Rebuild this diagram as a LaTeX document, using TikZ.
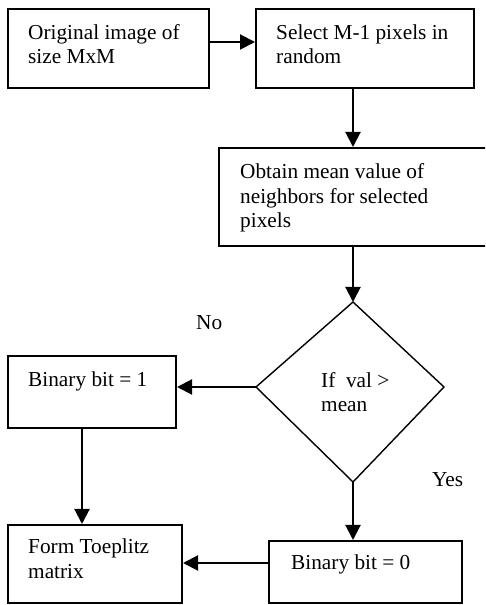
\documentclass[tikz,border=0pt]{standalone}
\usepackage{fontspec}
\setmainfont{Liberation Serif}
\usetikzlibrary{arrows.meta,calc}
\begin{document}
\begin{tikzpicture}[x=1pt,y=1pt,
  box/.style={draw=black,line width=2pt,inner sep=0pt,fill=white},
  txt/.style={inner sep=0pt,anchor=base west,align=left,font=\fontsize{21.3}{24.5}\selectfont},
  arr/.style={line width=2pt,-{Triangle[length=15pt,width=15pt]}},
  dia/.style={draw=black,line width=1.4pt,line join=miter}]
\clip (0,0) rectangle (485,605);
\fill[white] (0,0) rectangle (485,605);
% boxes
\node[box,minimum width=201pt,minimum height=79pt] (b1) at (108.5,556.5) {};
\node[box,minimum width=218pt,minimum height=79pt] (b2) at (365,556.5) {};
\node[box,minimum width=276pt,minimum height=98pt] (b3) at (357,408) {};
\node[box,minimum width=168pt,minimum height=72pt] (b4) at (92,213) {};
\node[box,minimum width=174pt,minimum height=78pt] (b5) at (95,41) {};
\node[box,minimum width=193pt,minimum height=62pt] (b6) at (365.5,33) {};
% diamond
\coordinate (dt) at (353,303);
\coordinate (dl) at (256,218);
\coordinate (dr) at (444,218);
\coordinate (db) at (353,123);
\draw[dia] (dt) -- (dr) -- (db) -- (dl) -- cycle;
% texts (anchored at the baseline of the last line)
\node[txt] (t1) at (28,541) {Original image of\\size MxM};
\node[txt] (t2) at (276,541) {Select M-1 pixels in\\random};
\node[txt] (t3) at (240,377) {Obtain mean value of\\neighbors for selected\\pixels};
\node[txt] (t4) at (321,193) {If\ \ val >\\mean};
\node[txt] (t5) at (28,218) {Binary bit = 1};
\node[txt] (t6) at (28,27) {Form Toeplitz\\matrix};
\node[txt] (t7) at (291,35) {Binary bit = 0};
\node[txt] (no) at (196,275) {No};
\node[txt] (yes) at (432,118) {Yes};
% connectors
\draw[arr] ([yshift=6.5pt]b1.east) -- ([yshift=6.5pt]b2.west);
\draw[arr] ([xshift=-12pt]b2.south) -- ([xshift=-12pt]b2.south |- b3.north);
\draw[arr] (b3.south -| dt) -- (dt);
\draw[arr] (dl) -- (dl -| b4.east);
\draw[arr] ([xshift=-10pt]b4.south) -- ([xshift=-10pt]b4.south |- b5.north);
\draw[arr] (db) -- (db |- b6.north);
\draw[arr] ([yshift=9pt]b6.west) -- ([yshift=9pt]b6.west -| b5.east);
\end{tikzpicture}
\end{document}
